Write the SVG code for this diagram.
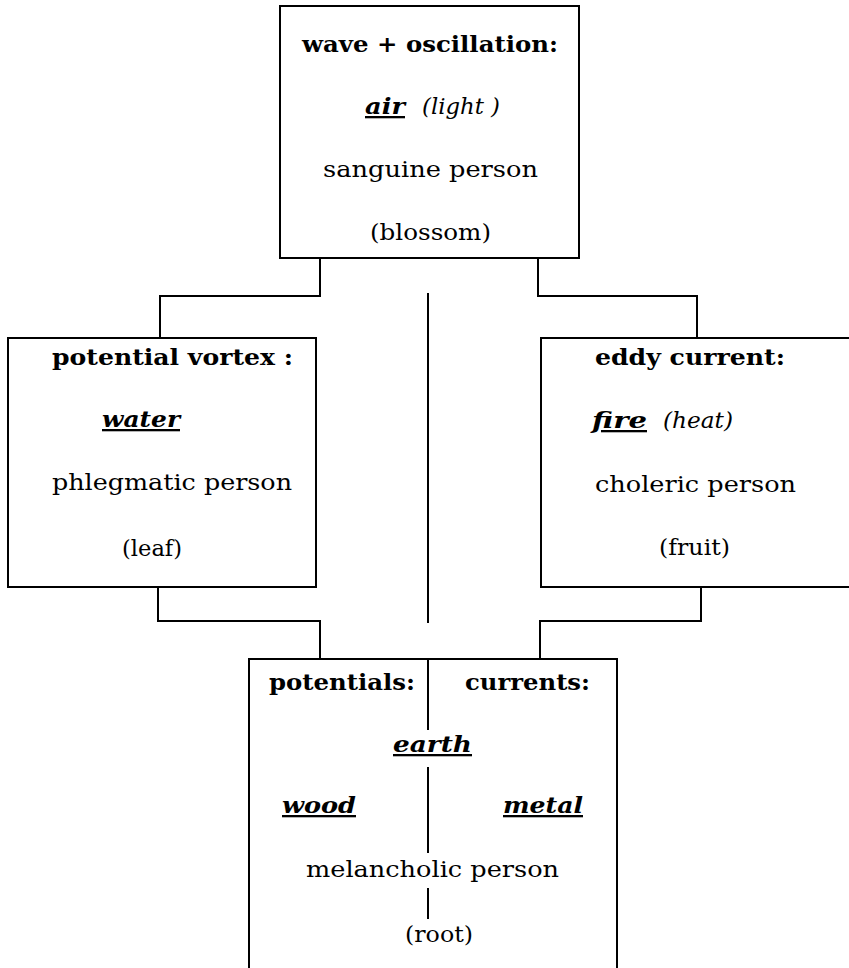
<svg xmlns="http://www.w3.org/2000/svg" width="849" height="968" viewBox="0 0 849 968">
<style>
.box{fill:#fff;stroke:#000;stroke-width:2}
.ln{fill:none;stroke:#000;stroke-width:2}
text{font-family:"DejaVu Serif","Liberation Serif",serif;fill:#000;font-size:23px}
.b{font-weight:bold}
.bi{font-weight:bold;font-style:italic;text-decoration:underline}
.i{font-style:italic}
</style>
<rect width="849" height="968" fill="#fff"/>
<g id="connectors">
<polyline class="ln" points="320,258 320,296 160,296 160,338"/>
<polyline class="ln" points="538,258 538,296 697,296 697,338"/>
<polyline class="ln" points="158,587 158,621 320,621 320,659"/>
<polyline class="ln" points="701,587 701,621 540,621 540,659"/>
<line class="ln" x1="428" y1="293" x2="428" y2="623"/>
</g>
<g id="top">
<rect class="box" x="280" y="6" width="299" height="252"/>
<text class="b" x="302" y="52" textLength="256" lengthAdjust="spacingAndGlyphs">wave + oscillation:</text>
<text class="bi" x="365" y="114" textLength="40" lengthAdjust="spacingAndGlyphs">air</text>
<text class="i" x="422" y="114" textLength="78" lengthAdjust="spacingAndGlyphs">(light )</text>
<text x="323" y="177" textLength="215" lengthAdjust="spacingAndGlyphs">sanguine person</text>
<text x="370" y="240" textLength="121" lengthAdjust="spacingAndGlyphs">(blossom)</text>
</g>
<g id="left">
<rect class="box" x="8" y="338" width="308" height="249"/>
<text class="b" x="52" y="365" textLength="241" lengthAdjust="spacingAndGlyphs">potential vortex :</text>
<text class="bi" x="102" y="427" textLength="78" lengthAdjust="spacingAndGlyphs">water</text>
<text x="52" y="490" textLength="240" lengthAdjust="spacingAndGlyphs">phlegmatic person</text>
<text x="122" y="556" textLength="60" lengthAdjust="spacingAndGlyphs">(leaf)</text>
</g>
<g id="right">
<rect class="box" x="541" y="338" width="310" height="249"/>
<text class="b" x="595" y="365" textLength="190" lengthAdjust="spacingAndGlyphs">eddy current:</text>
<text class="bi" x="592" y="428" textLength="55" lengthAdjust="spacingAndGlyphs">fire</text>
<text class="i" x="663" y="428" textLength="70" lengthAdjust="spacingAndGlyphs">(heat)</text>
<text x="595" y="492" textLength="201" lengthAdjust="spacingAndGlyphs">choleric person</text>
<text x="659" y="555" textLength="71" lengthAdjust="spacingAndGlyphs">(fruit)</text>
</g>
<g id="bottom">
<rect class="box" x="249" y="659" width="368" height="320"/>
<line class="ln" x1="428" y1="659" x2="428" y2="730"/>
<line class="ln" x1="428" y1="767" x2="428" y2="853"/>
<line class="ln" x1="428" y1="888" x2="428" y2="919"/>
<text class="b" x="269" y="690" textLength="146" lengthAdjust="spacingAndGlyphs">potentials:</text>
<text class="b" x="465" y="690" textLength="125" lengthAdjust="spacingAndGlyphs">currents:</text>
<text class="bi" x="393" y="752" textLength="79" lengthAdjust="spacingAndGlyphs">earth</text>
<text class="bi" x="282" y="813" textLength="74" lengthAdjust="spacingAndGlyphs">wood</text>
<text class="bi" x="503" y="813" textLength="80" lengthAdjust="spacingAndGlyphs">metal</text>
<text x="306" y="877" textLength="253" lengthAdjust="spacingAndGlyphs">melancholic person</text>
<text x="405" y="942" textLength="68" lengthAdjust="spacingAndGlyphs">(root)</text>
</g>
</svg>
